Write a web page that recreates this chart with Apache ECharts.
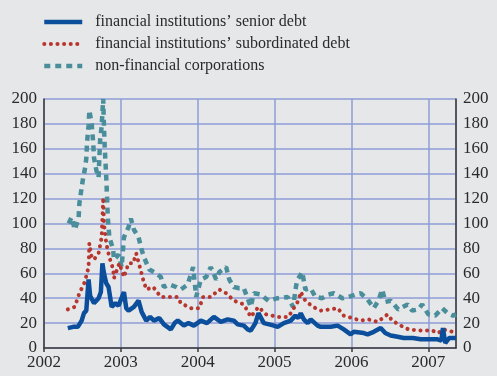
<!DOCTYPE html>
<html>
<head>
<meta charset="utf-8">
<script src="https://cdn.jsdelivr.net/npm/echarts@6/dist/echarts.min.js"></script>
<style>
  html, body { margin: 0; padding: 0; background: #e6e7e9; }
  #chart { width: 497px; height: 376px; }
</style>
</head>
<body>
<div id="chart"></div>
<script>
var seniorYears = [2002.31, 2002.38, 2002.44, 2002.49, 2002.52, 2002.55, 2002.58, 2002.60, 2002.65, 2002.71,
    2002.74, 2002.76, 2002.78, 2002.81, 2002.84, 2002.88, 2002.93, 2002.97, 2003.04, 2003.07,
    2003.10, 2003.17, 2003.23, 2003.27, 2003.33, 2003.38, 2003.43, 2003.50, 2003.56, 2003.65,
    2003.70, 2003.74, 2003.82, 2003.88, 2003.95, 2004.04, 2004.12, 2004.21, 2004.30, 2004.39,
    2004.47, 2004.52, 2004.60, 2004.65, 2004.69, 2004.75, 2004.79, 2004.86, 2004.93, 2004.99,
    2005.04, 2005.12, 2005.21, 2005.27, 2005.31, 2005.34, 2005.38, 2005.43, 2005.47, 2005.56,
    2005.60, 2005.73, 2005.82, 2005.90, 2005.99, 2006.03, 2006.16, 2006.21, 2006.29, 2006.38,
    2006.44, 2006.51, 2006.60, 2006.68, 2006.80, 2006.90, 2007.00, 2007.12, 2007.17, 2007.19,
    2007.22, 2007.27, 2007.32, 2007.36];
var seniorDebt = [16, 17, 17, 22, 28, 30, 55, 42, 36, 40,
    45, 68, 60, 52, 49, 33, 36, 34, 45, 32,
    30, 33, 38, 29, 22, 25, 22, 24, 19, 15,
    20, 22, 18, 20, 18, 22, 20, 25, 21, 23,
    22, 19, 18, 15, 14, 20, 28, 20, 19, 18,
    17, 20, 22, 26, 24, 28, 23, 20, 23, 18,
    17, 17, 18, 15, 11, 13, 12, 11, 13, 16,
    12, 10, 9, 8, 8, 7, 7, 7, 6, 16,
    4, 8, 8, 8];

var subYears = [2002.31, 2002.40, 2002.46, 2002.53, 2002.58, 2002.59, 2002.62, 2002.65, 2002.71, 2002.75,
    2002.77, 2002.78, 2002.81, 2002.85, 2002.90, 2002.91, 2002.98, 2003.04, 2003.10, 2003.16,
    2003.20, 2003.23, 2003.29, 2003.33, 2003.42, 2003.52, 2003.65, 2003.74, 2003.78, 2003.91,
    2004.02, 2004.07, 2004.17, 2004.28, 2004.37, 2004.47, 2004.60, 2004.69, 2004.79, 2004.89,
    2005.04, 2005.18, 2005.25, 2005.31, 2005.34, 2005.40, 2005.50, 2005.60, 2005.73, 2005.82,
    2005.90, 2006.01, 2006.12, 2006.22, 2006.34, 2006.47, 2006.53, 2006.64, 2006.74, 2006.90,
    2007.05, 2007.13, 2007.19, 2007.32, 2007.36];
var subordinatedDebt = [31, 33, 44, 53, 65, 84, 73, 71, 76, 89,
    121, 100, 84, 73, 63, 56, 68, 57, 68, 68,
    76, 69, 55, 47, 49, 41, 41, 41, 36, 32,
    32, 41, 41, 47, 44, 38, 35, 25, 33, 27,
    25, 25, 32, 38, 45, 38, 33, 30, 31, 32,
    26, 24, 22, 23, 21, 27, 22, 18, 15, 14,
    14, 12, 15, 13, 13];

var corpYears = [2002.32, 2002.36, 2002.40, 2002.45, 2002.46, 2002.49, 2002.51, 2002.53, 2002.55, 2002.56,
    2002.58, 2002.59, 2002.62, 2002.64, 2002.65, 2002.68, 2002.71, 2002.72, 2002.73, 2002.75,
    2002.77, 2002.78, 2002.79, 2002.81, 2002.82, 2002.83, 2002.85, 2002.90, 2002.91, 2002.97,
    2003.01, 2003.04, 2003.10, 2003.13, 2003.17, 2003.20, 2003.23, 2003.27, 2003.30, 2003.37,
    2003.46, 2003.52, 2003.56, 2003.63, 2003.72, 2003.78, 2003.87, 2003.94, 2003.98, 2004.04,
    2004.11, 2004.17, 2004.24, 2004.28, 2004.30, 2004.37, 2004.41, 2004.47, 2004.54, 2004.60,
    2004.69, 2004.73, 2004.82, 2004.92, 2005.04, 2005.17, 2005.24, 2005.28, 2005.30, 2005.36,
    2005.40, 2005.47, 2005.53, 2005.62, 2005.70, 2005.77, 2005.88, 2005.96, 2006.05, 2006.12,
    2006.21, 2006.29, 2006.35, 2006.40, 2006.44, 2006.51, 2006.61, 2006.73, 2006.79, 2006.87,
    2006.92, 2007.00, 2007.09, 2007.18, 2007.25, 2007.32, 2007.36];
var nonFinancial = [100, 105, 95, 104, 116, 129, 137, 143, 152, 165,
    179, 191, 180, 165, 153, 143, 137, 153, 167, 178,
    200, 178, 161, 137, 121, 105, 89, 79, 71, 75,
    65, 89, 97, 104, 95, 92, 89, 79, 73, 63,
    60, 57, 49, 51, 49, 47, 51, 65, 41, 55,
    57, 65, 55, 61, 60, 65, 55, 49, 48, 48,
    33, 44, 43, 38, 40, 41, 33, 50, 55, 61,
    47, 48, 41, 40, 43, 44, 40, 41, 43, 44,
    39, 32, 38, 47, 37, 38, 31, 35, 30, 31,
    35, 27, 26, 32, 28, 26, 27];

var yearTicks = [2002, 2003, 2004, 2005, 2006, 2007];
var valueTicks = [0, 20, 40, 60, 80, 100, 120, 140, 160, 180, 200];

function pairs(xs, ys) {
    return xs.map(function (x, i) { return [x, ys[i]]; });
}

var chart = echarts.init(document.getElementById('chart'));
var fontFamily = '"Liberation Serif", "DejaVu Serif", serif';
var gridColor = '#8e9cd6';

var yAxisCommon = {
    type: 'value',
    min: valueTicks[0],
    max: valueTicks[valueTicks.length - 1],
    interval: 20,
    axisLine: { show: true, lineStyle: { color: '#3a3a3a', width: 1.5 } },
    axisTick: { show: false },
    splitLine: { show: true, lineStyle: { color: gridColor, width: 1.5 } },
    axisLabel: { color: '#2a2a2a', fontSize: 17, fontFamily: fontFamily, margin: 7 }
};

var option = {
    backgroundColor: '#e6e7e9',
    animation: false,
    legend: {
        orient: 'vertical',
        left: 37,
        top: 9,
        itemWidth: 38,
        itemHeight: 14,
        itemGap: 6,
        lineStyle: { width: 'inherit' },
        itemStyle: { opacity: 0 },
        textStyle: { color: '#2a2a2a', fontSize: 16, fontFamily: fontFamily, padding: [0, 0, 0, 8] },
        data: ['financial institutions\u2019 senior debt',
               'financial institutions\u2019 subordinated debt',
               'non-financial corporations']
    },
    grid: { left: 44, right: 41, top: 99, bottom: 28 },
    xAxis: {
        type: 'value',
        min: yearTicks[0],
        max: 2007.36,
        interval: 1,
        axisLine: { show: true, onZero: false, lineStyle: { color: '#3a3a3a', width: 1.5 } },
        axisTick: { show: true, length: 4, lineStyle: { color: '#3a3a3a', width: 1.5 } },
        splitLine: { show: true, lineStyle: { color: gridColor, width: 1.5 } },
        axisLabel: {
            color: '#2a2a2a', fontSize: 17, fontFamily: fontFamily, margin: 6,
            showMaxLabel: false,
            formatter: function (v) { return yearTicks.indexOf(v) >= 0 ? String(v) : ''; }
        }
    },
    yAxis: [
        Object.assign({ position: 'left' }, yAxisCommon),
        Object.assign({ position: 'right' }, yAxisCommon, { splitLine: { show: false } })
    ],
    series: [
        {
            name: 'non-financial corporations',
            type: 'line',
            symbol: 'none',
            data: pairs(corpYears, nonFinancial),
            lineStyle: { color: '#4a8e9b', width: 4.5, type: [6, 5], cap: 'butt' },
            itemStyle: { color: '#4a8e9b' }
        },
        {
            name: 'financial institutions\u2019 subordinated debt',
            type: 'line',
            symbol: 'none',
            data: pairs(subYears, subordinatedDebt),
            lineStyle: { color: '#b7372f', width: 4, type: [0.1, 6.5], cap: 'round' },
            itemStyle: { color: '#b7372f' }
        },
        {
            name: 'financial institutions\u2019 senior debt',
            type: 'line',
            symbol: 'none',
            data: pairs(seniorYears, seniorDebt),
            lineStyle: { color: '#0b4f9c', width: 4.5 },
            itemStyle: { color: '#0b4f9c' }
        }
    ]
};

chart.setOption(option);
</script>
</body>
</html>
